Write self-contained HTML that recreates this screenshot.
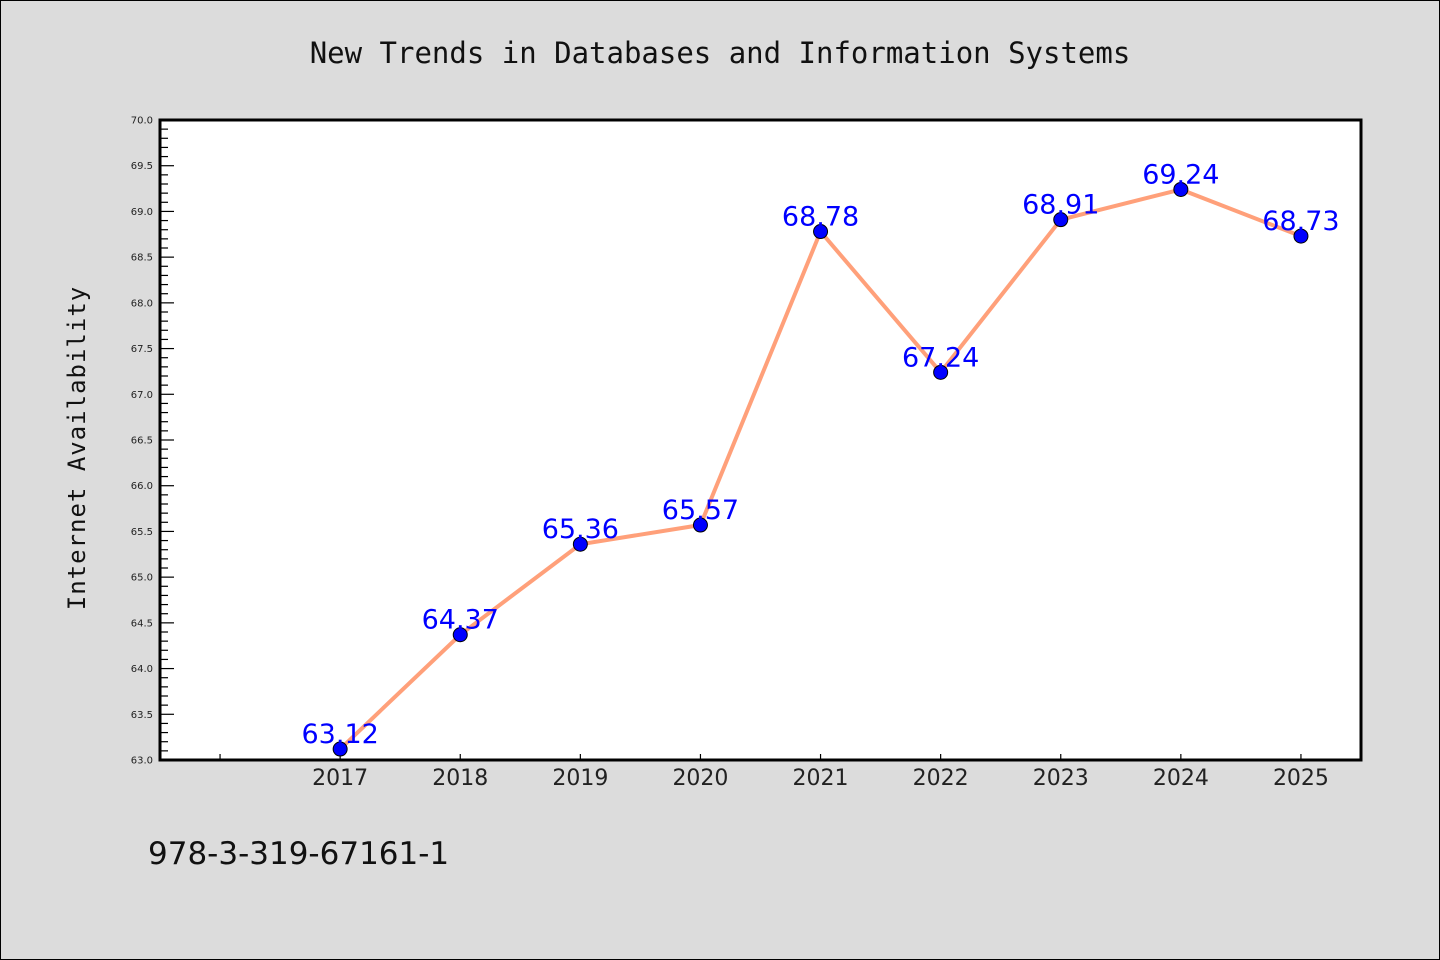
<!DOCTYPE html>
<html><head><meta charset="utf-8"><style>
body{margin:0;background:#dcdcdc;}
svg{display:block;font-family:"DejaVu Sans","Liberation Sans",sans-serif;}
</style></head><body>
<svg id="chart" width="1440" height="960">
<rect x="0.5" y="0.5" width="1439" height="959" fill="#dcdcdc" stroke="#000"/>
<text x="720" y="63" text-anchor="middle" font-size="29" fill="#111" font-family="DejaVu Sans Mono, Liberation Mono, monospace">New Trends in Databases and Information Systems</text>
<rect x="160" y="120" width="1201" height="640" fill="#fff"/>
<g id="ticks"></g>
<g id="series"></g>
<rect x="160" y="120" width="1201" height="640" fill="none" stroke="#000" stroke-width="3"/>
<text transform="translate(85,448) rotate(-90)" text-anchor="middle" font-size="24" fill="#111" font-family="DejaVu Sans Mono, Liberation Mono, monospace" letter-spacing="1">Internet Availability</text>
<text x="148" y="864" font-size="31" fill="#111">978-3-319-67161-1</text>
</svg>
<script>
const years=[2017,2018,2019,2020,2021,2022,2023,2024,2025];
const values=[63.12,64.37,65.36,65.57,68.78,67.24,68.91,69.24,68.73];
const yTicks=[63.0,63.5,64.0,64.5,65.0,65.5,66.0,66.5,67.0,67.5,68.0,68.5,69.0,69.5,70.0];
const NS="http://www.w3.org/2000/svg";
const x0=160,x1=1361,y0=760,y1=120,xmin=2015.5,xmax=2025.5,ymin=63,ymax=70;
const X=v=>x0+(v-xmin)/(xmax-xmin)*(x1-x0);
const Y=v=>y0-(v-ymin)/(ymax-ymin)*(y0-y1);
function mk(t,a,p){const e=document.createElementNS(NS,t);for(const k in a)e.setAttribute(k,a[k]);p.appendChild(e);return e;}
const tg=document.getElementById('ticks'),sg=document.getElementById('series');
for(let i=0;i<=70;i++){const v=63+i*0.1;const major=i%5===0;
 const l=mk('line',{x1:x0,x2:x0+(major?14:8),y1:Y(v),y2:Y(v),stroke:'#000','stroke-width':1.2},tg);
 
 }
yTicks.forEach(v=>{const t=mk('text',{x:x0-7,y:Y(v)+3.5,'text-anchor':'end','font-size':10,fill:'#222'},tg);t.textContent=v.toFixed(1);
 
 });
[2016].concat(years).forEach(y=>{const l=mk('line',{x1:X(y),x2:X(y),y1:y0,y2:y0-6,stroke:'#000','stroke-width':1.2},tg);
 
 });
years.forEach(y=>{const t=mk('text',{x:X(y),y:y0+25,'text-anchor':'middle','font-size':22,fill:'#222'},tg);t.textContent=y;
 
 });
const pl=mk('polyline',{points:years.map((y,i)=>X(y)+','+Y(values[i])).join(' '),fill:'none',stroke:'#ffa07a','stroke-width':4},sg);


years.forEach((y,i)=>{
 const c=mk('circle',{cx:X(y),cy:Y(values[i]),r:7,fill:'#0000ff',stroke:'#000','stroke-width':1},sg);
 
 
 const t=mk('text',{x:X(y),y:Y(values[i])-6,'text-anchor':'middle','font-size':27,fill:'#0000ff'},sg);t.textContent=values[i].toFixed(2);
 
 
});
</script>
</body></html>
